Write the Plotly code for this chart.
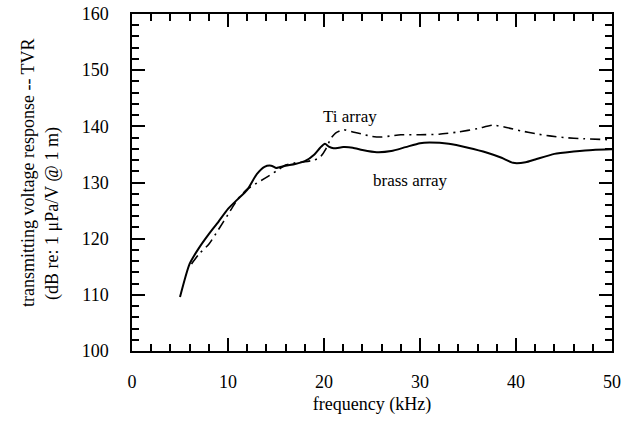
import plotly.graph_objects as go

brass_x = [5, 6, 7, 8, 9, 10, 11, 12, 13, 13.8, 14.5, 15, 16, 17, 18, 19, 19.6, 20.1, 20.5, 21, 22, 23, 24, 25.5, 27, 28.5, 30, 31, 33, 35, 37, 38.5, 39.7, 41, 42, 44, 46, 48, 50]
brass_y = [109.6, 115.5, 118.4, 120.8, 123.0, 125.3, 127.0, 128.7, 131.5, 132.8, 133.0, 132.6, 133.0, 133.3, 133.8, 135.0, 136.2, 136.9, 136.4, 136.1, 136.3, 136.2, 135.8, 135.4, 135.6, 136.3, 137.0, 137.1, 136.9, 136.2, 135.3, 134.4, 133.5, 133.6, 134.1, 135.1, 135.5, 135.8, 135.9]

ti_x = [6.2, 7, 8, 9, 10, 11, 12, 13, 14, 15, 16, 17, 18, 19, 19.6, 20.2, 20.7, 21.2, 22, 23, 24, 25, 26, 27, 28, 30, 32, 34, 36, 37.6, 39, 40.5, 42, 43.5, 45, 47, 50]
ti_y = [115.5, 117.3, 119.0, 121.6, 124.3, 127.0, 128.8, 129.9, 130.9, 132.0, 133.1, 133.5, 133.7, 134.0, 134.5, 136.0, 137.8, 138.8, 139.4, 139.0, 138.6, 138.2, 138.1, 138.3, 138.5, 138.5, 138.6, 139.0, 139.6, 140.2, 139.8, 139.2, 138.7, 138.3, 138.0, 137.8, 137.6]

x_range = [0, 50]
y_range = [100, 160]

FONT = "Liberation Serif"

fig = go.Figure()
fig.add_trace(go.Scatter(x=ti_x, y=ti_y, mode="lines",
                         line=dict(color="black", width=1.6, dash="10px,5px,2px,5px", shape="spline", smoothing=0.6),
                         showlegend=False, hoverinfo="skip"))
fig.add_trace(go.Scatter(x=brass_x, y=brass_y, mode="lines",
                         line=dict(color="black", width=2, shape="spline", smoothing=0.6),
                         showlegend=False, hoverinfo="skip"))

fig.update_layout(
    xaxis=dict(range=x_range, showline=True, linecolor="black", linewidth=1.5, mirror="allticks",
               ticks="inside", ticklen=13, tickwidth=2, tickcolor="black", dtick=10,
               minor=dict(dtick=2, ticks="inside", ticklen=7, tickwidth=1.5, tickcolor="black"),
               showgrid=False, zeroline=False, automargin=False, ticklabelstandoff=14,
               tickfont=dict(family=FONT, size=18, color="black"),
               title=dict(text="frequency (kHz)", font=dict(family=FONT, size=18, color="black"), standoff=6)),
    yaxis=dict(range=y_range, showline=True, linecolor="black", linewidth=1.5, mirror="allticks",
               ticks="inside", ticklen=13, tickwidth=2, tickcolor="black", dtick=10,
               minor=dict(dtick=2, ticks="inside", ticklen=7, tickwidth=1.5, tickcolor="black"),
               showgrid=False, zeroline=False, automargin=False, ticklabelstandoff=18,
               tickfont=dict(family=FONT, size=18, color="black")),
)

fig.add_annotation(text="transmitting voltage response -- TVR", xref="paper", yref="paper",
                   x=-0.2417, y=0.531, textangle=-90, showarrow=False,
                   font=dict(family=FONT, size=18, color="black"))
fig.add_annotation(text="(dB re: 1 μPa/V @ 1 m)", xref="paper", yref="paper",
                   x=-0.1917, y=0.6706, textangle=-90, showarrow=False,
                   font=dict(family=FONT, size=18, color="black"))
fig.add_annotation(text="Ti array", x=22.7, y=141.8, xref="x", yref="y", showarrow=False,
                   font=dict(family=FONT, size=17, color="black"))
fig.add_annotation(text="brass array", x=29.0, y=130.3, xref="x", yref="y", showarrow=False,
                   font=dict(family=FONT, size=17, color="black"))

fig.update_layout(width=623, height=421, margin=dict(l=132, r=11, t=14, b=70, autoexpand=False),
                  paper_bgcolor="white", plot_bgcolor="white")

fig.write_html("out.html")
